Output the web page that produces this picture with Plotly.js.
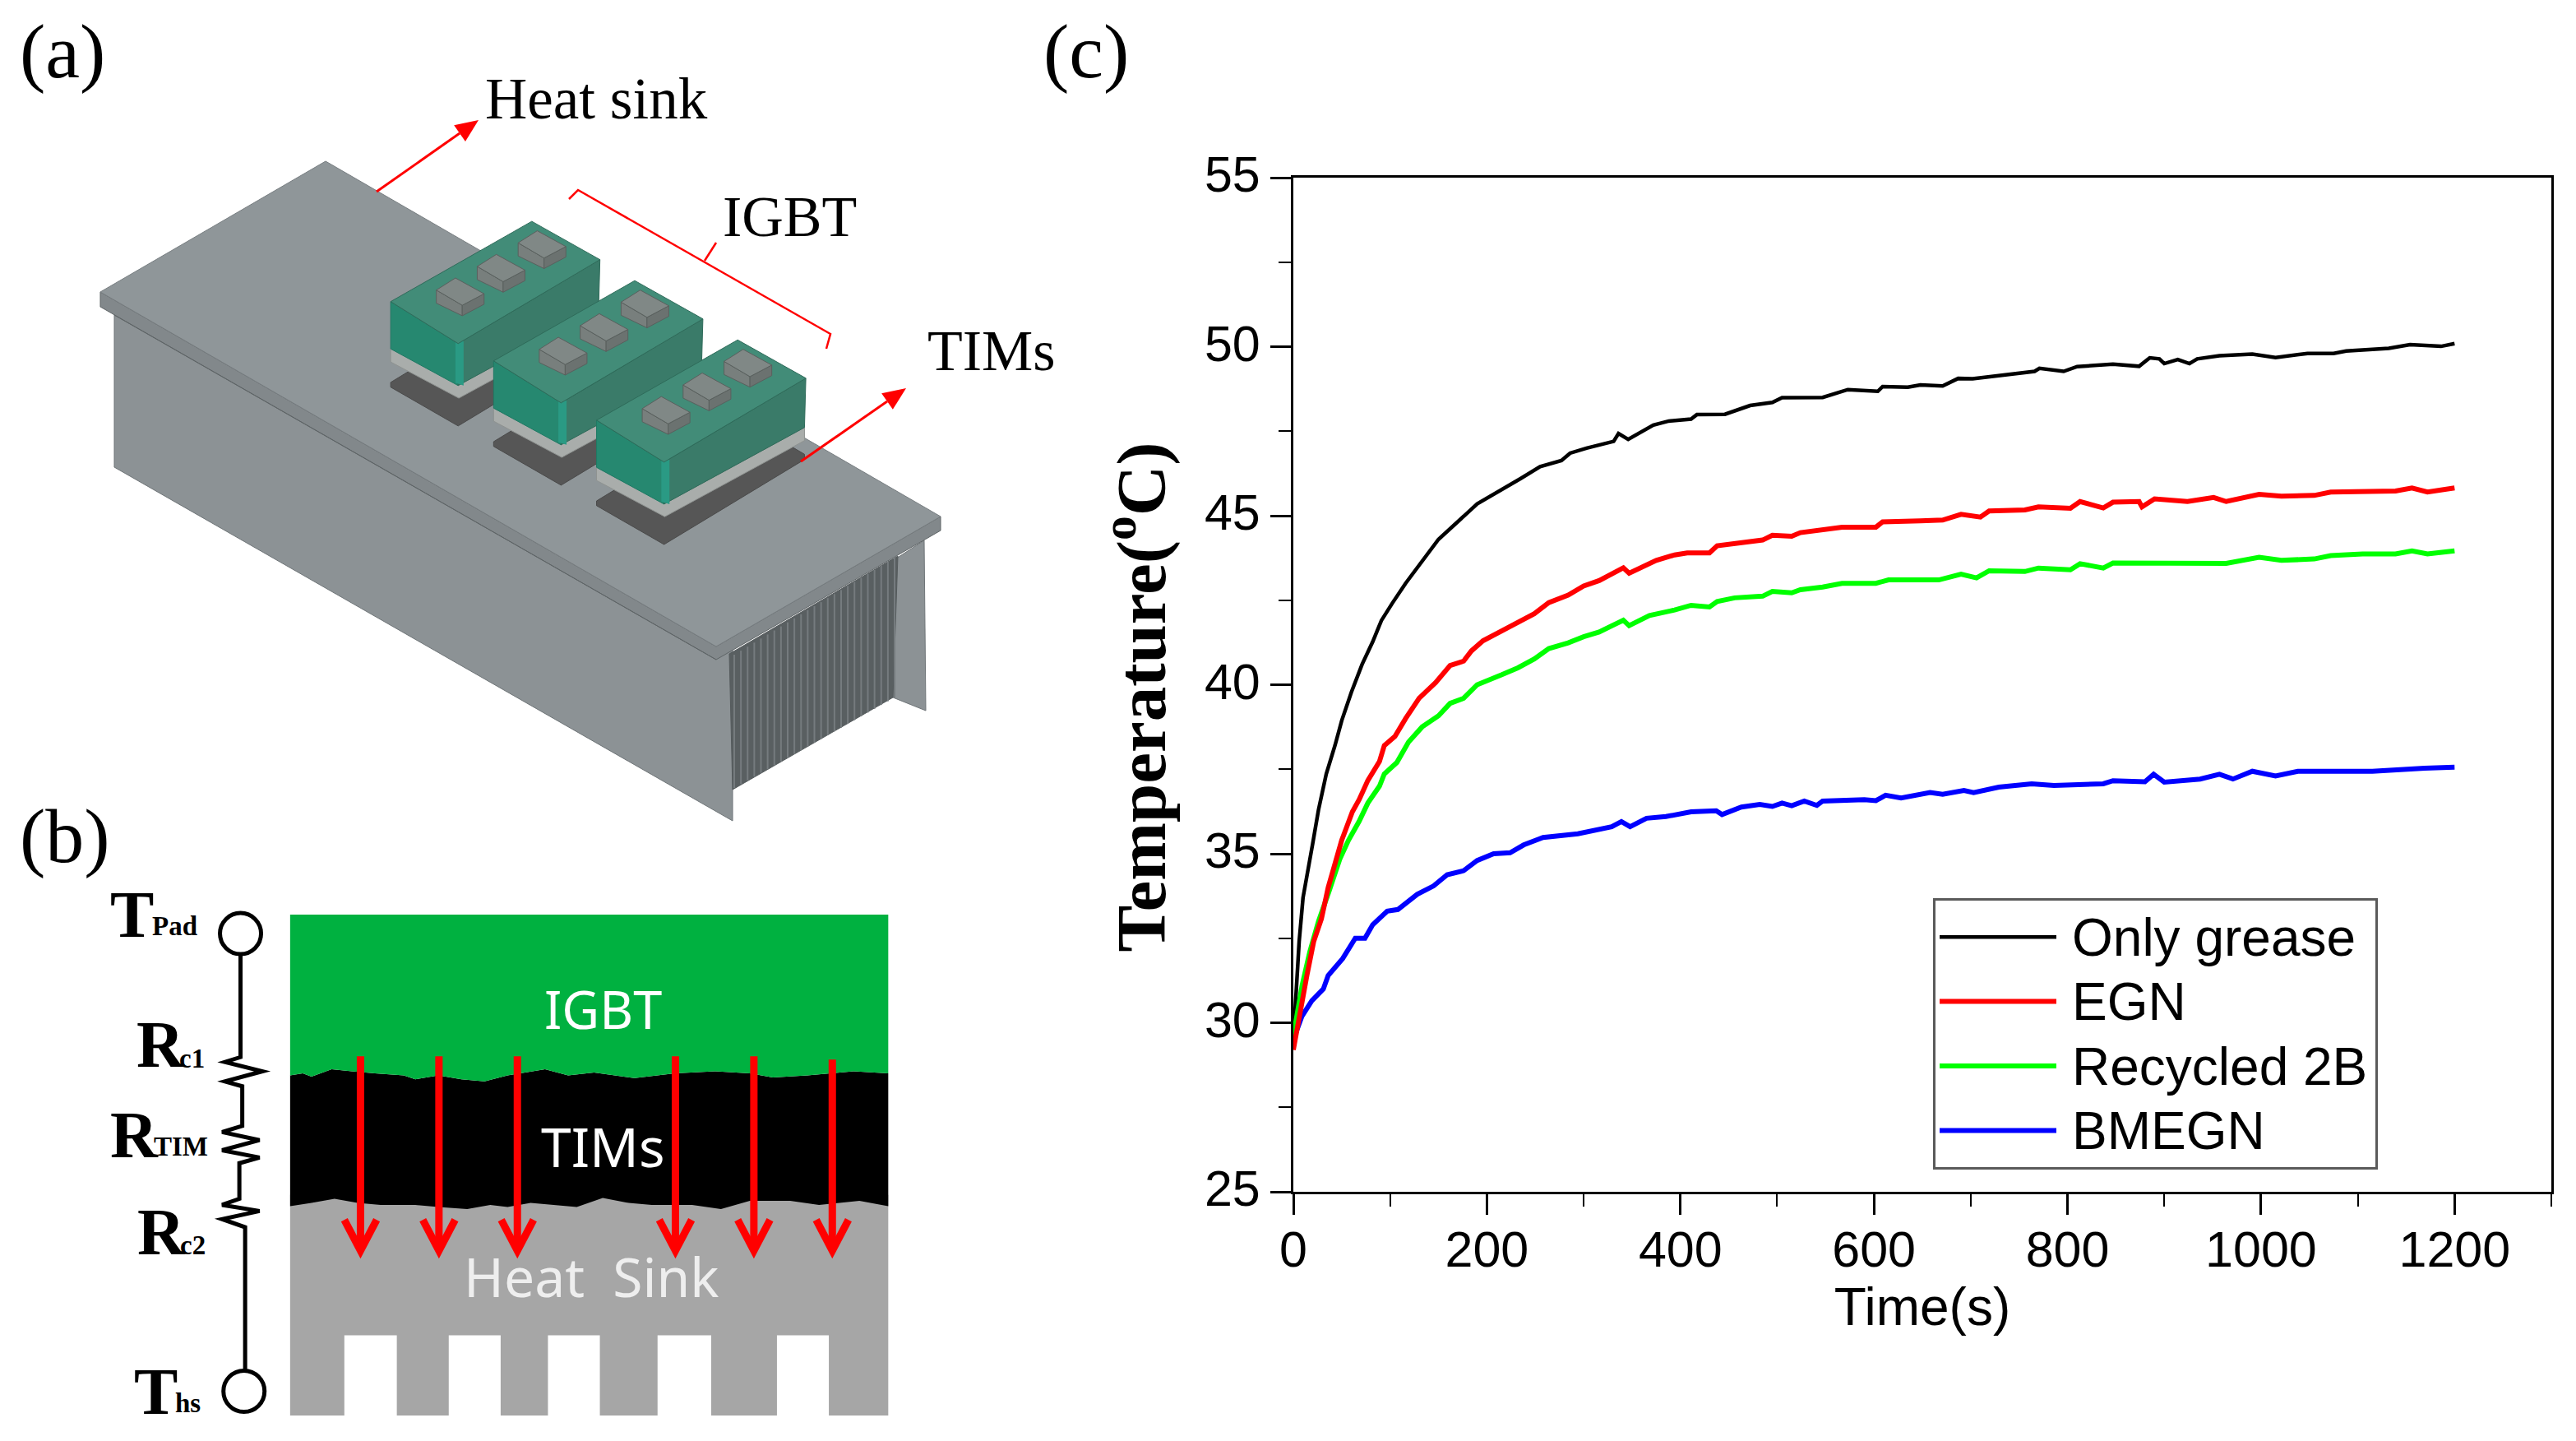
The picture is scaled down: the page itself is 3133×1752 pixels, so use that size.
<!DOCTYPE html>
<html>
<head>
<meta charset="utf-8">
<script src="https://cdn.plot.ly/plotly-3.0.1.min.js"></script>
<style>
html,body{margin:0;padding:0;background:#fff}
#chart .legendtext{font-size:64px !important;transform:translateX(14px)}
#chart .legend .scrollbox{clip-path:none !important}
#chart .legend rect.bg{width:538px}
#chart .g-ytitle{transform:translateY(15px)}
</style>
</head>
<body>
<div id="chart" style="width:3133px;height:1752px"></div>
<script>
// ---------- Panel (c) data ----------
const seriesNames = ["Only grease", "EGN", "Recycled 2B", "BMEGN"];
const seriesColors = ["#000000", "#ff0000", "#00ff00", "#0000ff"];

const timeGrease = [0,3,6,10,16,20,26,34,43,50,60,71,82,91,102,116,150,190,235,255,277,286,303,331,336,346,372,388,411,417,446,472,495,505,547,573,604,609,635,648,671,687,702,733,766,771,796,810,847,874,885,895,900,914,926,934,957,991,1015,1048,1075,1088,1132,1154,1186,1200];
const tempGrease = [29.5,31.1,32.4,33.7,34.6,35.3,36.3,37.36,38.2,38.94,39.78,40.6,41.27,41.9,42.4,43.0,44.3,45.35,46.1,46.45,46.63,46.85,47.0,47.2,47.43,47.26,47.68,47.8,47.86,47.99,48.0,48.26,48.35,48.49,48.5,48.73,48.68,48.82,48.8,48.87,48.84,49.06,49.05,49.15,49.27,49.36,49.27,49.41,49.48,49.42,49.67,49.64,49.5,49.62,49.5,49.64,49.73,49.78,49.68,49.8,49.8,49.87,49.95,50.06,50.01,50.09];

const timeEGN = [0,6,14,21,29,36,43,50,61,68,77,89,94,105,116,130,147,162,176,184,196,215,232,249,264,284,300,316,341,347,375,394,407,430,438,456,485,495,515,524,567,602,609,648,671,690,710,719,756,770,803,813,837,847,874,877,890,924,951,964,998,1021,1055,1072,1105,1139,1156,1172,1200];
const tempEGN = [29.2,30.2,31.4,32.4,33.07,34.0,34.66,35.4,36.24,36.6,37.17,37.73,38.2,38.47,39.0,39.6,40.06,40.57,40.7,41.0,41.3,41.6,41.87,42.1,42.43,42.65,42.92,43.08,43.46,43.3,43.68,43.84,43.9,43.9,44.11,44.17,44.28,44.42,44.39,44.5,44.66,44.66,44.82,44.85,44.87,45.04,44.96,45.14,45.17,45.26,45.22,45.42,45.23,45.4,45.42,45.26,45.5,45.42,45.54,45.42,45.63,45.58,45.6,45.7,45.73,45.73,45.82,45.7,45.82];

const time2B = [0,9,17,26,37,48,57,68,77,89,94,107,119,133,150,162,176,190,215,232,249,264,284,300,316,341,347,368,394,411,430,438,456,485,495,515,524,547,567,602,615,667,690,706,719,756,770,803,813,837,847,877,964,998,1021,1055,1072,1105,1139,1156,1172,1200];
const temp2B = [29.6,31.1,32.1,33.0,33.9,34.84,35.4,35.96,36.5,37.0,37.36,37.7,38.3,38.75,39.08,39.45,39.6,40.0,40.29,40.5,40.76,41.07,41.24,41.42,41.56,41.91,41.75,42.05,42.21,42.35,42.3,42.46,42.57,42.62,42.76,42.72,42.81,42.89,43.0,43.0,43.1,43.1,43.27,43.16,43.37,43.35,43.45,43.4,43.58,43.45,43.6,43.6,43.59,43.77,43.68,43.72,43.82,43.87,43.87,43.96,43.87,43.96];

const timeBMEGN = [0,9,19,31,36,51,64,74,82,97,108,128,145,159,176,190,207,224,238,258,294,329,339,348,365,385,411,437,443,463,482,495,505,515,528,541,547,590,602,612,628,658,671,693,703,729,763,786,837,847,880,889,900,937,957,971,991,1015,1038,1078,1115,1169,1200];
const tempBMEGN = [29.5,30.2,30.65,31.0,31.4,31.9,32.5,32.5,32.9,33.3,33.35,33.8,34.05,34.38,34.5,34.8,35.0,35.03,35.26,35.48,35.59,35.8,35.95,35.8,36.05,36.1,36.24,36.27,36.16,36.38,36.46,36.4,36.5,36.42,36.56,36.43,36.56,36.6,36.57,36.73,36.65,36.81,36.76,36.87,36.81,36.97,37.07,37.02,37.07,37.16,37.13,37.35,37.12,37.21,37.35,37.21,37.44,37.3,37.44,37.44,37.44,37.53,37.56];

const timeSeries = [timeGrease, timeEGN, time2B, timeBMEGN];
const tempSeries = [tempGrease, tempEGN, temp2B, tempBMEGN];
const lineWidths = [4.5, 6, 6, 6];
const drawOrder = [0, 3, 2, 1];   // red is drawn last, as in the reference

// ---------- Canvas geometry ----------
const W = 3133, H = 1752;
const plotL = 1573, plotR = 3103, plotT = 216, plotB = 1449;
const px = x => (x - plotL) / (plotR - plotL);
const py = y => (plotB - y) / (plotB - plotT);

// ---------- Illustration helpers (panels a and b have no data scale) ----------
const shapes = [], annotations = [];
const A = (p, o) => [(p[0] + (o ? o[0] : 0)) / 1.206, (p[1] + (o ? o[1] : 0)) / 1.568];
const B = p => [p[0] / 1.4255, 980 + p[1] / 2.031];
function pathOf(pts, close) {
  return pts.map((p, i) => (i ? "L" : "M") + px(p[0]).toFixed(5) + "," + py(p[1]).toFixed(5)).join(" ") + (close ? " Z" : "");
}
function poly(pts, fill, lineColor, lineW) {
  shapes.push({type: "path", xref: "paper", yref: "paper", path: pathOf(pts, true), fillcolor: fill,
    line: {color: lineColor || fill, width: lineW === undefined ? 1 : lineW}, layer: "above"});
}
function stroke(pts, color, w) {
  shapes.push({type: "path", xref: "paper", yref: "paper", path: pathOf(pts, false), fillcolor: "rgba(0,0,0,0)",
    line: {color: color, width: w}, layer: "above"});
}
function ring(cx, cy, r, w) {
  shapes.push({type: "circle", xref: "paper", yref: "paper", x0: px(cx - r), x1: px(cx + r), y0: py(cy + r), y1: py(cy - r),
    fillcolor: "#ffffff", line: {color: "#000", width: w}, layer: "above"});
}
function txt(s, x, y, size, family, color, anchor) {
  annotations.push({text: s, xref: "paper", yref: "paper", x: px(x), y: py(y), showarrow: false, xanchor: anchor || "left", yanchor: "middle",
    borderpad: 0, font: {family: family, size: size, color: color || "#000"}});
}
function redArrow(a, b) {
  const dx = b[0] - a[0], dy = b[1] - a[1], L = Math.hypot(dx, dy), ux = dx / L, uy = dy / L, h = 28, s = 12;
  const m = [b[0] - ux * h, b[1] - uy * h];
  stroke([a, m], "#ff0000", 3);
  poly([b, [m[0] - uy * s, m[1] + ux * s], [m[0] + uy * s, m[1] - ux * s]], "#ff0000", "#ff0000", 0);
}

const SERIF = "Liberation Serif", SANS = "Liberation Sans", NOTO = "Noto Sans";

// ---------- Panel (a) ----------
// heat sink body
poly([[139,383],[139,568],[891,998],[891,790],[871,790]], "#8c9295", "#6f7578", 1);
// end wall and fin block
poly([[1090,679],[1124,657],[1126,864],[1086,848]], "#8c9295", "#6f7578", 1);
poly([[887,795],[1092,676],[1086,848],[891,960]], "#595f61", "#555b5d", 1);
for (let i = 0; i <= 24; i++) {
  const f = i / 24, x = 893 + f * 195, yTop = 796 - f * 118, yBot = 958 - f * 110;
  stroke([[x, yTop], [x, yBot]], "#757b7e", 2);
}
// top plate
poly([[122,355],[122,373],[871,802],[1144,645],[1144,628],[871,786]], "#82888b", "#5f6567", 1);
poly([[396,196],[122,355],[871,786],[1144,628]], "#8f9699", "#777d80", 1);
stroke([[139,383],[871,802]], "#5f6567", 1);

const moduleShift = [[0,0],[151,113],[302,226]];
const chipShift = [[0,0],[60,-45],[120,-90]];
moduleShift.forEach(o => {
  poly([[573,729],[573,738],[672,812],[878,650],[878,640],[780,565]].map(p => A(p, o)), "#565656", "#4a4a4a", 1);
  poly([[573,665],[573,690],[673,759],[878,614],[878,589],[673,734]].map(p => A(p, o)), "#a9adab", "#8f9391", 1);
  poly([[573,575],[672,655],[672,735],[573,665]].map(p => A(p, o)), "#268870", "#1f7a64", 1);
  poly([[672,655],[880,495],[878,589],[672,735]].map(p => A(p, o)), "#3a7b69", "#2f6b5a", 1);
  poly([[668,652],[680,650],[680,735],[668,730]].map(p => A(p, o)), "#2a9a84", "#2a9a84", 0);
  poly([[573,575],[780,422],[880,495],[672,655]].map(p => A(p, o)), "#428c78", "#2f6b5a", 1);
  chipShift.forEach(c => {
    const s = [o[0] + c[0], o[1] + c[1]];
    poly([[640,553],[640,578],[678,602],[678,582]].map(p => A(p, s)), "#787f7d", "#5a605e", 1);
    poly([[678,582],[710,560],[710,580],[678,602]].map(p => A(p, s)), "#6b7270", "#5a605e", 1);
    poly([[640,553],[668,530],[710,560],[678,582]].map(p => A(p, s)), "#808886", "#5a605e", 1);
  });
});
redArrow([458,233],[582,146]);
redArrow([974,561],[1102,472]);
stroke([[692,242],[703,231],[1010,406],[1005,424]], "#ff0000", 2.5);
stroke([[857,317],[871,295]], "#ff0000", 2.5);

txt("(a)", 23, 62, 94, SERIF);
txt("Heat sink", 589, 120, 71, SERIF);
txt("IGBT", 878, 264, 70, SERIF);
txt("TIMs", 1127, 426, 70, SERIF);

// ---------- Panel (b) ----------
const greenEdge = [[503,665],[525,660],[540,668],[575,650],[610,655],[650,660],[700,665],[720,675],[760,665],[800,675],[840,680],[880,665],[945,650],[985,665],[1030,658],[1100,672],[1170,660],[1240,655],[1300,660],[1340,670],[1400,665],[1480,655],[1540,660]];
const greyEdge = [[503,988],[540,980],[580,970],[620,980],[660,985],[720,985],[760,990],[810,995],[850,985],[880,990],[920,980],[960,985],[1000,990],[1045,968],[1090,980],[1130,985],[1200,985],[1250,995],[1300,975],[1370,975],[1420,985],[1490,975],[1540,988]];
const notches = [[597,688],[778,868],[950,1040],[1140,1233],[1347,1437]];
const heatArrows = [[625,618],[761,618],[897,618],[1171,618],[1307,618],[1443,626]];

poly([[503,960],[1540,960],[1540,1505],[503,1505]].map(B), "#a6a6a6", "#a6a6a6", 0);
notches.forEach(n => poly([[n[0],1307],[n[1],1307],[n[1],1510],[n[0],1510]].map(B), "#ffffff", "#ffffff", 0));
poly(greenEdge.concat(greyEdge.slice().reverse()).map(B), "#000000", "#000000", 0);
poly([[503,268],[1540,268]].concat(greenEdge.slice().reverse()).map(B), "#00b140", "#00b140", 0);

txt("IGBT", B([1046,500])[0], B([1046,500])[1], 63, NOTO, "#ffffff", "center");
txt("TIMs", B([1046,838])[0], B([1046,838])[1], 66, NOTO, "#ffffff", "center");
txt("Heat\u00a0\u00a0Sink", B([1025,1160])[0], B([1025,1160])[1], 66, NOTO, "#eeeeee", "center");

heatArrows.forEach(a => {
  stroke([B([a[0], a[1]]), B([a[0], 1095])], "#ff0000", 9);
  stroke([B([a[0] - 28, 1022]), B([a[0], 1098]), B([a[0] + 28, 1022])], "#ff0000", 9);
});

// thermal circuit
stroke([[417,365],[417,620],[390,632],[455,655],[390,680],[420,692],[420,790],[385,805],[450,825],[385,850],[450,868],[415,882],[415,970],[385,985],[450,1000],[385,1020],[425,1040],[425,1395]].map(B), "#000000", 5);
ring(B([417,315])[0], B([417,315])[1], 25, 5);
ring(B([423,1445])[0], B([423,1445])[1], 25, 5);

const bold = s => "<b>" + s + "</b>";
txt(bold("T"), 133, 1112, 80, SERIF);
txt(bold("Pad"), 184, 1126, 33, SERIF);
txt(bold("R"), 165, 1270, 80, SERIF);
txt(bold("c1"), 217, 1287, 33, SERIF);
txt(bold("R"), 133, 1380, 80, SERIF);
txt(bold("TIM"), 186, 1394, 33, SERIF);
txt(bold("R"), 166, 1498, 80, SERIF);
txt(bold("c2"), 218, 1514, 33, SERIF);
txt(bold("T"), 162, 1692, 80, SERIF);
txt(bold("hs"), 212, 1706, 33, SERIF);

txt("(b)", 23, 1016, 94, SERIF);
txt("(c)", 1268, 62, 94, SERIF);

// ---------- Panel (c) chart ----------
const traces = drawOrder.map(i => ({
  type: "scatter", mode: "lines", name: seriesNames[i], x: timeSeries[i], y: tempSeries[i],
  legendrank: i + 1, line: {color: seriesColors[i], width: lineWidths[i]}
}));

const layout = {
  width: W, height: H, paper_bgcolor: "#fff", plot_bgcolor: "#fff",
  margin: {l: plotL, r: W - plotR, t: plotT, b: H - plotB, pad: 0, autoexpand: false},
  showlegend: true,
  legend: {x: px(2351), y: py(1092), xanchor: "left", yanchor: "top", bgcolor: "#fff", bordercolor: "#5a5a5a", borderwidth: 3,
    itemwidth: 142, tracegroupgap: 0, font: {family: SANS, size: 58, color: "#000"}},
  xaxis: {range: [0, 1300], dtick: 200, tick0: 0, ticks: "outside", ticklen: 25, tickwidth: 3, tickcolor: "#000",
    showline: true, linewidth: 3, linecolor: "#000", mirror: true, showgrid: false, zeroline: false,
    ticklabelstandoff: -10,
    minor: {dtick: 100, ticks: "outside", ticklen: 15, tickwidth: 2, tickcolor: "#000", showgrid: false},
    tickfont: {family: SANS, size: 61, color: "#000"},
    title: {text: "Time(s)", standoff: 0, font: {family: SANS, size: 64, color: "#000"}}},
  yaxis: {range: [25, 55], dtick: 5, tick0: 25, ticks: "outside", ticklen: 25, tickwidth: 3, tickcolor: "#000",
    showline: true, linewidth: 3, linecolor: "#000", mirror: true, showgrid: false, zeroline: false,
    ticklabelshift: -4,
    minor: {dtick: 2.5, ticks: "outside", ticklen: 15, tickwidth: 2, tickcolor: "#000", showgrid: false},
    tickfont: {family: SANS, size: 61, color: "#000"},
    title: {text: "<b>Temperature(<sup>o</sup>C)</b>", standoff: 20, font: {family: SERIF, size: 85, color: "#000"}}},
  shapes: shapes, annotations: annotations
};

Plotly.newPlot("chart", traces, layout, {displayModeBar: false, staticPlot: true});
</script>
</body>
</html>
